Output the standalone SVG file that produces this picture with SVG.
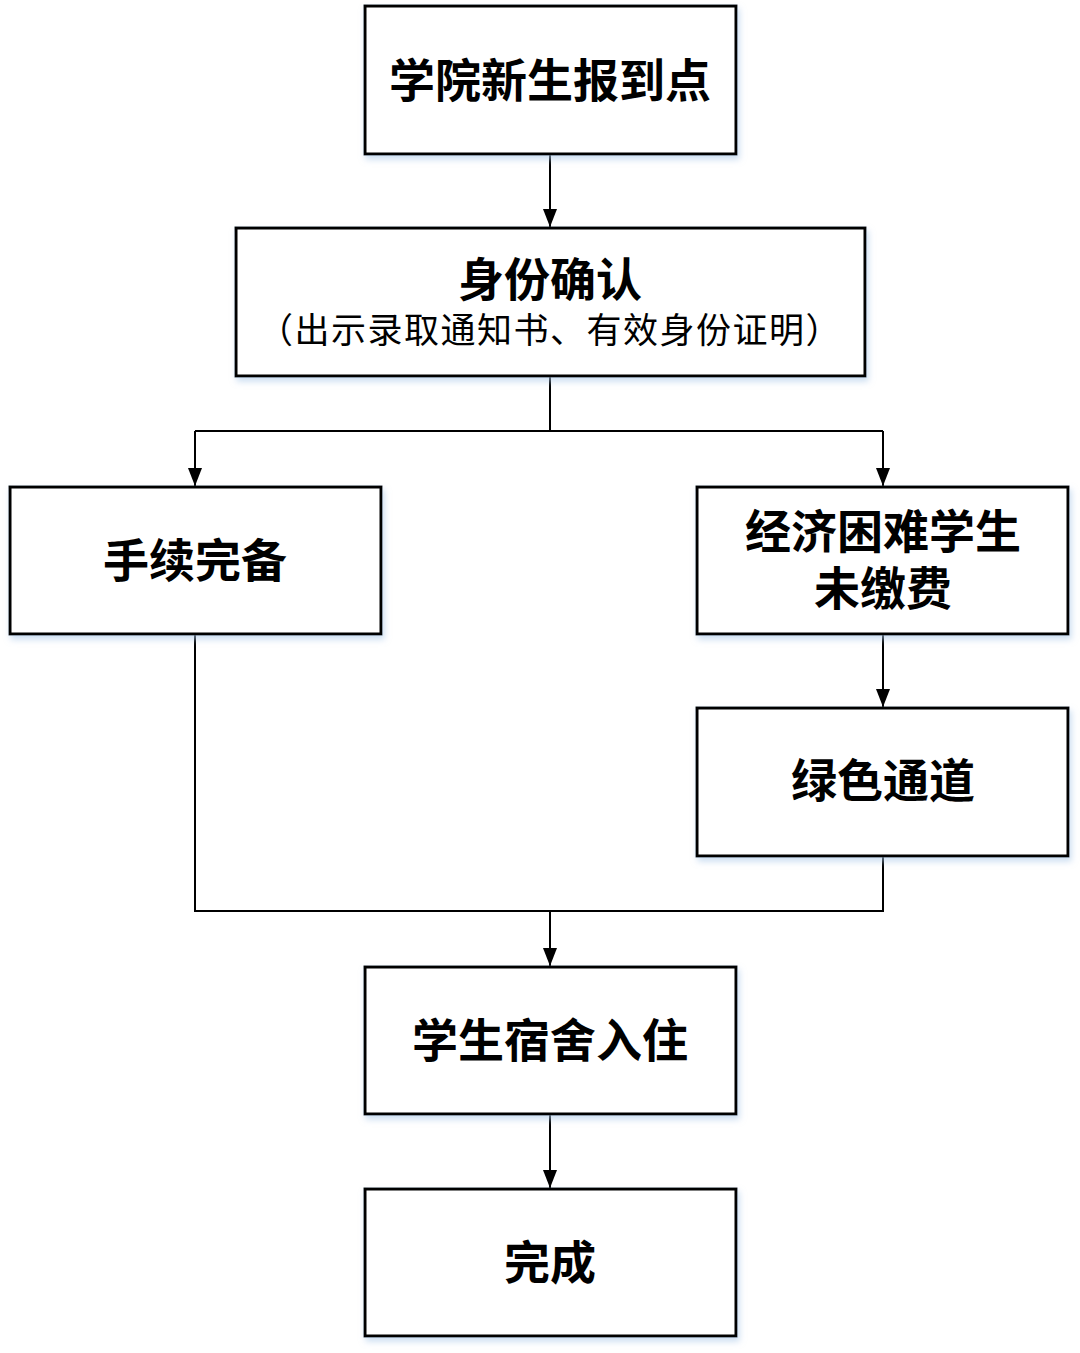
<svg xmlns="http://www.w3.org/2000/svg" width="1080" height="1353" viewBox="0 0 1080 1353">
<style>
.box{fill:#fff;stroke:#000;stroke-width:3;filter:url(#sh)}
.t{font-family:"Noto Sans CJK SC","Noto Sans",sans-serif;font-weight:bold;font-size:46px;fill:#000;text-anchor:middle;dominant-baseline:central}
.s{font-family:"Noto Sans CJK SC","Noto Sans",sans-serif;font-weight:normal;font-size:35px;letter-spacing:1.5px;fill:#000;text-anchor:middle;dominant-baseline:central}
.c{fill:none;stroke:#000;stroke-width:2}
</style>
<defs>
<filter id="sh" x="-5%" y="-10%" width="110%" height="130%">
<feDropShadow dx="2" dy="4" stdDeviation="3" flood-color="#a9c8e8" flood-opacity="0.6"/>
</filter>
<marker id="ar" viewBox="0 0 18 14" refX="18" refY="7" markerWidth="18" markerHeight="14" markerUnits="userSpaceOnUse" orient="auto">
<path d="M0,0 L18,7 L0,14 Z" fill="#000"/>
</marker>
</defs>
<rect width="1080" height="1353" fill="#fff"/>
<g id="connectors">
<line class="c" x1="550" y1="154" x2="550" y2="227" marker-end="url(#ar)"/>
<polyline class="c" points="550,376 550,431"/>
<polyline class="c" points="195,431 883,431"/>
<line class="c" x1="195" y1="431" x2="195" y2="486" marker-end="url(#ar)"/>
<line class="c" x1="883" y1="431" x2="883" y2="486" marker-end="url(#ar)"/>
<line class="c" x1="883" y1="634" x2="883" y2="707" marker-end="url(#ar)"/>
<polyline class="c" points="195,634 195,911 883,911 883,856"/>
<line class="c" x1="550" y1="911" x2="550" y2="966" marker-end="url(#ar)"/>
<line class="c" x1="550" y1="1114" x2="550" y2="1188" marker-end="url(#ar)"/>
</g>
<g id="n1"><rect class="box" x="365" y="6" width="371" height="148"/><text class="t" x="550" y="77">学院新生报到点</text></g>
<g id="n2"><rect class="box" x="236" y="228" width="629" height="148"/><text class="t" x="550" y="276">身份确认</text><text class="s" x="550" y="327">（出示录取通知书、有效身份证明）</text></g>
<g id="n3"><rect class="box" x="10" y="487" width="371" height="147"/><text class="t" x="195" y="557">手续完备</text></g>
<g id="n4"><rect class="box" x="697" y="487" width="371" height="147"/><text class="t" x="883" y="528">经济困难学生</text><text class="t" x="883" y="585">未缴费</text></g>
<g id="n5"><rect class="box" x="697" y="708" width="371" height="148"/><text class="t" x="883" y="777">绿色通道</text></g>
<g id="n6"><rect class="box" x="365" y="967" width="371" height="147"/><text class="t" x="550" y="1037">学生宿舍入住</text></g>
<g id="n7"><rect class="box" x="365" y="1189" width="371" height="147"/><text class="t" x="550" y="1259">完成</text></g>
</svg>
